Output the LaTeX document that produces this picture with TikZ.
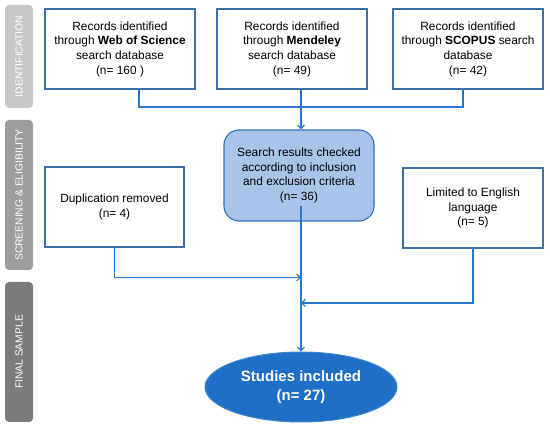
\documentclass[tikz,border=0pt]{standalone}
\usepackage{fontspec}
\setmainfont{Liberation Sans}
\usetikzlibrary{shapes.geometric,arrows.meta}
\definecolor{linec}{RGB}{40,120,205}
\definecolor{boxc}{RGB}{62,112,168}
\definecolor{bluefill}{RGB}{168,196,232}
\definecolor{blueedge}{RGB}{52,114,190}
\definecolor{ellfill}{RGB}{30,111,197}
\definecolor{barA}{RGB}{200,200,200}
\definecolor{barB}{RGB}{158,158,158}
\definecolor{barC}{RGB}{124,124,124}
\tikzset{
  recbox/.style={draw=boxc, line width=1.1pt, fill=white, inner sep=0pt, align=center,
    font=\fontsize{11.9}{14.7}\selectfont},
  sidebar/.style={fill=#1, rounded corners=4pt, inner sep=0pt, text=white,
    font=\fontsize{10.3}{12}\selectfont, rotate=90, minimum height=28pt},
  conn/.style={draw=linec, line width=1.2pt},
  arr/.style={conn, -{Straight Barb[length=3.5pt,width=7pt]}}
}
\begin{document}
\begin{tikzpicture}[x=1pt,y=-1pt]
\useasboundingbox (0,0) rectangle (550,427);
% side bars
\node[sidebar=barA, minimum width=103pt] (sbA) at (19,56.5) {IDENTIFICATION};
\node[sidebar=barB, minimum width=150pt] (sbB) at (19,195) {SCREENING \& ELIGIBILITY};
\node[sidebar=barC, minimum width=140pt] (sbC) at (19,352) {FINAL SAMPLE};
% identification boxes
\node[recbox, minimum width=150pt, minimum height=80pt] (wos) at (120,49)
  {Records identified\\through \textbf{Web of Science}\\search database\\(n= 160 )};
\node[recbox, minimum width=150pt, minimum height=80pt] (men) at (292,49)
  {Records identified\\through \textbf{Mendeley}\\search database\\(n= 49)};
\node[recbox, minimum width=150pt, minimum height=80pt] (sco) at (468,49)
  {Records identified\\through \textbf{SCOPUS} search\\database\\(n= 42)};
% screening
\node[draw=blueedge, line width=1.1pt, fill=bluefill, rounded corners=15pt, inner sep=0pt,
  minimum width=150pt, minimum height=91pt, align=center,
  font=\fontsize{11.9}{14.7}\selectfont] (scr) at (299,175.5)
  {Search results checked\\according to inclusion\\and exclusion criteria\\(n= 36)};
\node[recbox, minimum width=139pt, minimum height=80pt] (dup) at (114.5,207)
  {Duplication removed\\(n= 4)};
\node[recbox, minimum width=140pt, minimum height=80pt] (lim) at (473,208)
  {Limited to English\\language\\(n= 5)};
% final
\node[ellipse, draw=ellfill!85!white, line width=1pt, fill=ellfill, inner sep=0pt,
  minimum width=192pt, minimum height=70pt, text=white, align=center,
  font=\fontsize{15}{18.3}\selectfont\bfseries] (fin) at (301,387)
  {Studies included\\(n= 27)};
% junctions
\coordinate (j1) at (301,107);
\coordinate (j2) at (301,277.5);
\coordinate (j3) at (301,303);
% connectors
\draw[conn] (wos.south -| 139,0) |- (j1) -| (sco.south -| 463,0);
\draw[arr] (men.south -| 301,0) -- (scr.north -| 301,0);
\draw[arr] (dup.south) |- (j2);
\draw[arr] (lim.south) |- (j3);
\draw[arr] ([yshift=16pt]scr.south -| 301,0) -- (fin.north);
\end{tikzpicture}
\end{document}
